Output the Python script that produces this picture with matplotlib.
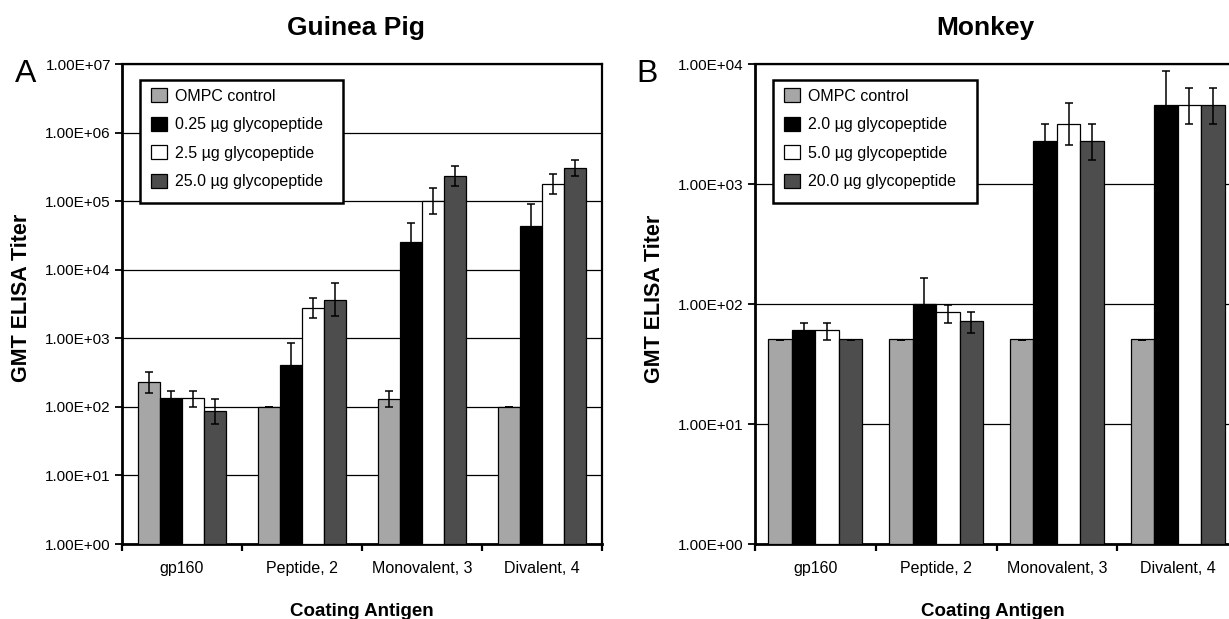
import matplotlib
matplotlib.use("Agg")
import matplotlib.pyplot as plt
import numpy as np
from matplotlib.patches import Rectangle
from matplotlib.ticker import FixedLocator, FuncFormatter, NullLocator

plt.rcParams['font.family'] = ['Liberation Sans', 'DejaVu Sans']

categories = ["gp160", "Peptide, 2", "Monovalent, 3", "Divalent, 4"]

# Guinea pig (panel A)
gp_labels = ["OMPC control", "0.25 µg glycopeptide", "2.5 µg glycopeptide", "25.0 µg glycopeptide"]
gp_ompc = [230, 100, 129, 100]
gp_ompc_hi = [320, 100, 172, 100]
gp_ompc_lo = [160, 100, 100, 100]
gp_025 = [132, 400, 25400, 44000]
gp_025_hi = [172, 850, 47300, 89500]
gp_025_lo = [101, 188, 13600, 21600]
gp_2_5 = [132, 2750, 99600, 175000]
gp_2_5_hi = [172, 3850, 157000, 245000]
gp_2_5_lo = [99, 1970, 64700, 125000]
gp_25 = [87, 3630, 233000, 308000]
gp_25_hi = [129, 6300, 327000, 401000]
gp_25_lo = [57, 2090, 167000, 233000]

# Monkey (panel B)
mk_labels = ["OMPC control", "2.0 µg glycopeptide", "5.0 µg glycopeptide", "20.0 µg glycopeptide"]
mk_ompc = [50, 50, 50, 50]
mk_ompc_hi = [50, 50, 50, 50]
mk_ompc_lo = [50, 50, 50, 50]
mk_2 = [60, 99, 2260, 4520]
mk_2_hi = [70, 164, 3190, 8720]
mk_2_lo = [51, 60, 1600, 2340]
mk_5 = [60, 84, 3190, 4520]
mk_5_hi = [70, 99, 4740, 6370]
mk_5_lo = [50, 70, 2110, 3170]
mk_20 = [50, 71, 2260, 4520]
mk_20_hi = [50, 86, 3190, 6370]
mk_20_lo = [50, 57, 1570, 3170]

colors = ["#a6a6a6", "#000000", "#ffffff", "#4d4d4d"]

W, H = 1229, 619
fig = plt.figure(figsize=(W / 100, H / 100), dpi=100)


def px(x, y):
    return x / W, 1 - y / H


def draw(ax, series, labels, ymax_exp, width, legend_box, handle_left):
    n = len(series)
    x = np.arange(len(categories))
    for i, (vals, hi, lo) in enumerate(series):
        pos = x + (i - (n - 1) / 2) * width
        vals = np.array(vals, float)
        err = np.vstack([vals - np.array(lo, float), np.array(hi, float) - vals])
        ax.bar(pos, vals, width=width, bottom=1, color=colors[i], edgecolor="black",
               linewidth=0.9, label=labels[i], zorder=3)
        ax.errorbar(pos, vals, yerr=err, fmt="none", ecolor="black", elinewidth=1.1,
                    capsize=2.6, capthick=1.1, zorder=4)
    ax.set_yscale("log")
    ax.set_ylim(1, 10 ** ymax_exp)
    ax.set_xlim(-0.5, len(categories) - 0.5)
    ax.yaxis.set_major_locator(FixedLocator([10.0 ** k for k in range(ymax_exp + 1)]))
    ax.yaxis.set_minor_locator(NullLocator())
    ax.yaxis.set_major_formatter(FuncFormatter(lambda v, p: f"{v:.2E}"))
    ax.grid(axis="y", color="black", linewidth=0.9, zorder=0)
    ax.set_axisbelow(True)
    ax.set_xticks(x)
    ax.set_xticklabels(categories, fontsize=11.5)
    ax.tick_params(axis="x", length=0, pad=12)
    ax.xaxis.set_minor_locator(FixedLocator(np.arange(len(categories) + 1) - 0.5))
    ax.tick_params(axis="x", which="minor", length=5, width=1.6, direction="out")
    ax.tick_params(axis="y", labelsize=11, length=5, width=1.3, direction="out", pad=3)
    for s in ax.spines.values():
        s.set_linewidth(1.6)
    ax.spines["left"].set_linewidth(2.0)
    ax.spines["bottom"].set_linewidth(2.0)

    # legend box (drawn as a rectangle in figure pixels, Excel-style padding)
    x0, y0, x1, y1 = legend_box
    rect = Rectangle((x0 / W, 1 - y1 / H), (x1 - x0) / W, (y1 - y0) / H,
                     transform=fig.transFigure, facecolor="white", edgecolor="black",
                     linewidth=1.8, zorder=5)
    ax.add_patch(rect)
    rect.set_clip_on(False)
    leg = ax.legend(loc="upper left", bbox_to_anchor=px(handle_left, y0 + 8),
                    bbox_transform=fig.transFigure, fontsize=11.5, frameon=False,
                    handlelength=1.0, handleheight=1.0, handletextpad=0.5,
                    labelspacing=0.81, borderpad=0.0, borderaxespad=0.0)
    leg.set_zorder(6)


# Panel A
ax1 = fig.add_axes([122 / W, 1 - 544 / H, 480 / W, 480 / H])
draw(ax1, [(gp_ompc, gp_ompc_hi, gp_ompc_lo), (gp_025, gp_025_hi, gp_025_lo),
           (gp_2_5, gp_2_5_hi, gp_2_5_lo), (gp_25, gp_25_hi, gp_25_lo)],
     gp_labels, 7, 0.185, (140, 80, 343, 203), 151)

# Panel B (plot area extends slightly past the right edge of the figure)
ax2 = fig.add_axes([755 / W, 1 - 544 / H, 483 / W, 480 / H])
draw(ax2, [(mk_ompc, mk_ompc_hi, mk_ompc_lo), (mk_2, mk_2_hi, mk_2_lo),
           (mk_5, mk_5_hi, mk_5_lo), (mk_20, mk_20_hi, mk_20_lo)],
     mk_labels, 4, 0.195, (773, 80, 977, 203), 784)

# Titles
fig.text(*px(356, 35), "Guinea Pig", fontsize=19, fontweight="bold", ha="center", va="baseline")
fig.text(*px(985, 35), "Monkey", fontsize=19, fontweight="bold", ha="center", va="baseline")

# Panel letters
fig.text(*px(26, 82), "A", fontsize=23, ha="center", va="baseline")
fig.text(*px(647, 82), "B", fontsize=23, ha="center", va="baseline")

# Y labels
fig.text(*px(22, 298), "GMT ELISA Titer", fontsize=15.5, fontweight="bold",
         rotation=90, ha="center", va="center")
fig.text(*px(654, 299), "GMT ELISA Titer", fontsize=15.5, fontweight="bold",
         rotation=90, ha="center", va="center")

# X labels
fig.text(*px(362, 616), "Coating Antigen", fontsize=13.5, fontweight="bold",
         ha="center", va="baseline")
fig.text(*px(993, 616), "Coating Antigen", fontsize=13.5, fontweight="bold",
         ha="center", va="baseline")

fig.savefig("out.png", dpi=100)
